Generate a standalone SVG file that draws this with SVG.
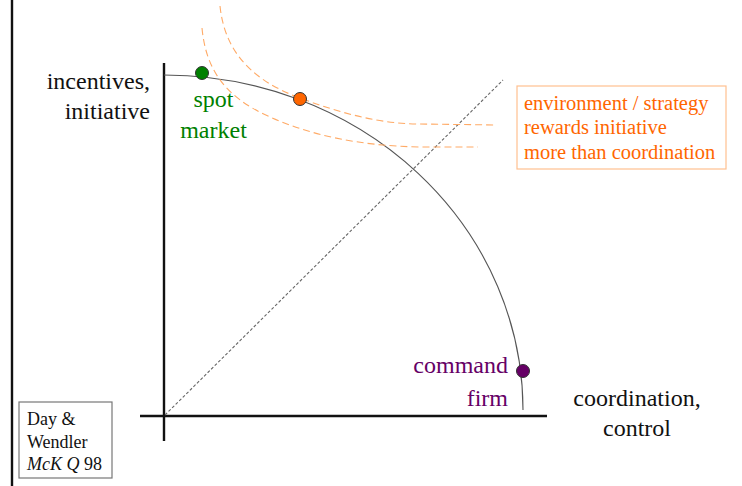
<svg xmlns="http://www.w3.org/2000/svg" width="742" height="486" viewBox="0 0 742 486">
<style>
text{font-family:"Liberation Serif","Times New Roman",serif;}
.lbl{font-size:24px;fill:#111;}
.axis{stroke:#111;stroke-width:2.4;fill:none;}
.iso{stroke:#ffaa66;stroke-width:1.1;fill:none;stroke-dasharray:7,4;}
.dot{stroke:#333;stroke-width:1;}
</style>
<rect width="742" height="486" fill="#fff"/>
<g id="border"><line x1="12" y1="0" x2="12" y2="486" class="axis"/></g>
<g id="connectors">
<line x1="164" y1="63" x2="164" y2="441" class="axis"/>
<line x1="140" y1="416" x2="547" y2="416" class="axis"/>
<line x1="165" y1="415" x2="503" y2="80" stroke="#666" stroke-width="1.1" stroke-dasharray="3,2"/>
<path d="M164,75 A359,335 0 0 1 523,410" fill="none" stroke="#555" stroke-width="1.1"/>
<path class="iso" d="M220,6 C224,45 245,78 300,98 C340,113 380,124 420,124 L497,125"/>
<path class="iso" d="M202,28 C206,70 225,97 270,117 C310,135 360,146 420,147 L478,147"/>
</g>
<g id="y-label">
<text class="lbl" x="150" y="89" text-anchor="end">incentives,</text>
<text class="lbl" x="150" y="119" text-anchor="end">initiative</text>
</g>
<g id="x-label">
<text class="lbl" x="637" y="406" text-anchor="middle">coordination,</text>
<text class="lbl" x="637" y="436" text-anchor="middle">control</text>
</g>
<g id="spot-market">
<circle class="dot" cx="202" cy="73" r="6.5" fill="#008000"/>
<text x="213.5" y="107" font-size="24" fill="#008000" text-anchor="middle">spot</text>
<text x="213.5" y="138" font-size="24" fill="#008000" text-anchor="middle">market</text>
</g>
<g id="optimum">
<circle class="dot" cx="300" cy="99" r="6.5" fill="#ff6600"/>
</g>
<g id="command-firm">
<circle class="dot" cx="523" cy="371" r="6.5" fill="#660066"/>
<text x="508" y="373" font-size="24" fill="#660066" text-anchor="end">command</text>
<text x="508" y="406" font-size="24" fill="#660066" text-anchor="end">firm</text>
</g>
<g id="environment-box">
<rect x="517" y="86" width="209" height="83" fill="#fff" stroke="#ffc090" stroke-width="1.2"/>
<text x="524" y="110" font-size="20.5" fill="#ff6600">environment / strategy</text>
<text x="524" y="134" font-size="20.5" fill="#ff6600">rewards initiative</text>
<text x="524" y="159" font-size="20.5" fill="#ff6600">more than coordination</text>
</g>
<g id="citation">
<rect x="19" y="402" width="93" height="76" fill="#fff" stroke="#777" stroke-width="1.2"/>
<text x="27" y="425" font-size="18" fill="#111">Day &amp;</text>
<text x="27" y="448" font-size="18" fill="#111">Wendler</text>
<text x="27" y="470" font-size="18" fill="#111"><tspan font-style="italic">McK Q</tspan> 98</text>
</g>
</svg>
